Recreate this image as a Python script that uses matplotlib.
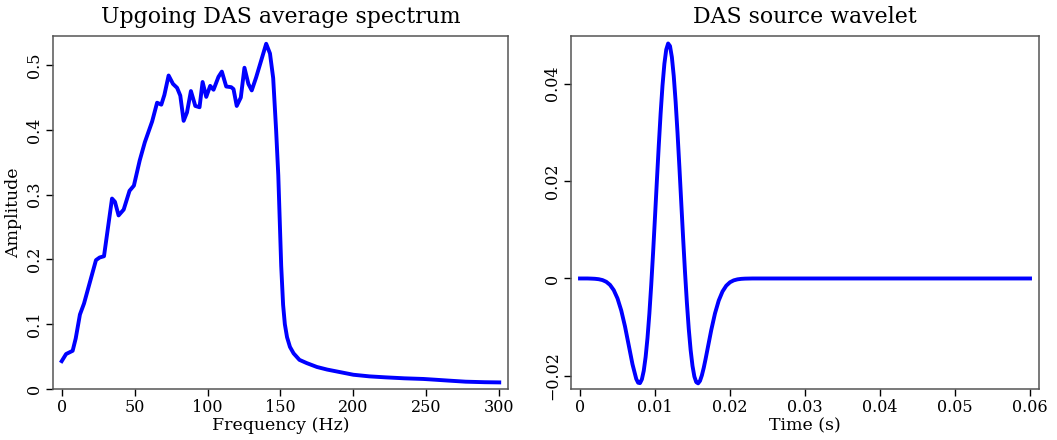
import matplotlib
matplotlib.use('Agg')
import matplotlib.pyplot as plt

# average spectrum of the upgoing DAS data
freq = [0, 3, 7.5, 9.6, 12.5, 15.3, 23.5, 26, 29, 34.5, 36.5, 39, 42.5, 46.5,
        49.5, 53.5, 57, 62, 65.4, 68.3, 70.4, 73.3, 76.3, 79.1, 81.3, 83.6,
        85.9, 88.6, 91.6, 94.5, 96.6, 99.1, 101.8, 104.1, 107.5, 109.8, 112.8,
        116.2, 117.8, 120, 122.8, 125.3, 128, 130.3, 133.3, 140.2, 142.8, 145,
        147, 148.5, 149.5, 150.5, 151.8, 153, 154.5, 156.5, 159, 163, 168, 175,
        182, 191, 200, 211, 222, 235, 248, 255, 265, 277, 290, 300]
amp = [0.043, 0.054, 0.059, 0.078, 0.115, 0.132, 0.199, 0.203, 0.205, 0.294,
       0.289, 0.268, 0.277, 0.306, 0.314, 0.353, 0.381, 0.413, 0.442, 0.439,
       0.454, 0.484, 0.471, 0.465, 0.453, 0.414, 0.427, 0.460, 0.437, 0.435,
       0.474, 0.451, 0.468, 0.462, 0.482, 0.490, 0.467, 0.466, 0.463, 0.437,
       0.450, 0.496, 0.471, 0.461, 0.481, 0.533, 0.518, 0.480, 0.40, 0.33,
       0.26, 0.19, 0.13, 0.100, 0.080, 0.065, 0.055, 0.045, 0.040, 0.034,
       0.030, 0.026, 0.022, 0.0195, 0.018, 0.0165, 0.0155, 0.0145, 0.013,
       0.0113, 0.0105, 0.0102]

# source wavelet
t = [0.0, 0.0005, 0.001, 0.0015, 0.002, 0.0025, 0.003, 0.0035, 0.004, 0.0045,
     0.005, 0.0055, 0.006, 0.0065, 0.007, 0.0075, 0.00775, 0.008, 0.00825,
     0.0085, 0.00875, 0.009, 0.00925, 0.0095, 0.00975, 0.01, 0.01025, 0.0105,
     0.01075, 0.011, 0.01125, 0.0115, 0.01175, 0.012, 0.01225, 0.0125,
     0.01275, 0.013, 0.01325, 0.0135, 0.01375, 0.014, 0.01425, 0.0145,
     0.01475, 0.015, 0.01525, 0.0155, 0.01575, 0.016, 0.01625, 0.0165,
     0.01675, 0.017, 0.0175, 0.018, 0.0185, 0.019, 0.0195, 0.02, 0.0205,
     0.021, 0.0215, 0.022, 0.023, 0.03, 0.04, 0.05, 0.06]
wav = [0.0, 0.0, 0.0, -0.000027, -0.000066, -0.000152, -0.000331, -0.000679,
       -0.001314, -0.002391, -0.004094, -0.006569, -0.009848, -0.01373,
       -0.01763, -0.02063, -0.02141, -0.02149, -0.02072, -0.01896, -0.01613,
       -0.0122, -0.00721, -0.001267, 0.005436, 0.01264, 0.02004, 0.02724,
       0.03389, 0.03962, 0.04408, 0.04702, 0.04826, 0.04773, 0.04545, 0.04157,
       0.03631, 0.02999, 0.02296, 0.01559, 0.00828, 0.001336, -0.004936,
       -0.01033, -0.01469, -0.01796, -0.02014, -0.02129, -0.02154, -0.02103,
       -0.01989, -0.01834, -0.0165, -0.01453, -0.01059, -0.007162, -0.004522,
       -0.002674, -0.001486, -0.000777, -0.000384, -0.000179, -0.000079,
       -0.000033, 0.0, 0.0, 0.0, 0.0, 0.0]

spec_ticks = [0, 0.1, 0.2, 0.3, 0.4, 0.5]
spec_labels = ['0', '0.1', '0.2', '0.3', '0.4', '0.5']
wav_ticks = [-0.02, 0, 0.02, 0.04]
wav_labels = ['\u22120.02', '0', '0.02', '0.04']
time_ticks = [0, 0.01, 0.02, 0.03, 0.04, 0.05, 0.06]
time_labels = ['0', '0.01', '0.02', '0.03', '0.04', '0.05', '0.06']

plt.rcParams['font.family'] = 'DejaVu Serif'

fig = plt.figure(figsize=(10.57, 4.40), dpi=100)
ax1 = fig.add_axes([0.0501, 0.1159, 0.4305, 0.8023])
ax2 = fig.add_axes([0.5402, 0.1159, 0.4428, 0.8023])


def style(ax):
	for sp in ax.spines.values():
		sp.set_color('#555555')
		sp.set_linewidth(1.1)
	ax.tick_params(direction='out', length=5, width=1, pad=2,
	               labelsize=11.5, colors='black')
	for lab in ax.get_yticklabels():
		lab.set_rotation(90)
		lab.set_va('center')


ax1.plot(freq, amp, color='#0000ff', linewidth=2.8)
ax1.set_xlim(-6, 306)
ax1.set_ylim(0, 0.545)
ax1.set_xticks([0, 50, 100, 150, 200, 250, 300])
ax1.set_yticks(spec_ticks, spec_labels)
ax1.set_xlabel('Frequency (Hz)', fontsize=12.5, labelpad=1)
ax1.set_ylabel('Amplitude', fontsize=12.5, labelpad=3)
ax1.set_title('Upgoing DAS average spectrum', fontsize=15.8, pad=9)
style(ax1)

ax2.plot(t, wav, color='#0000ff', linewidth=2.8)
ax2.set_xlim(-0.0012, 0.0612)
ax2.set_ylim(-0.0227, 0.0498)
ax2.set_xticks(time_ticks, time_labels)
ax2.set_yticks(wav_ticks, wav_labels)
ax2.set_xlabel('Time (s)', fontsize=12.5, labelpad=1)
ax2.set_title('DAS source wavelet', fontsize=15.8, pad=9)
style(ax2)

fig.savefig('out.png', dpi=100)
